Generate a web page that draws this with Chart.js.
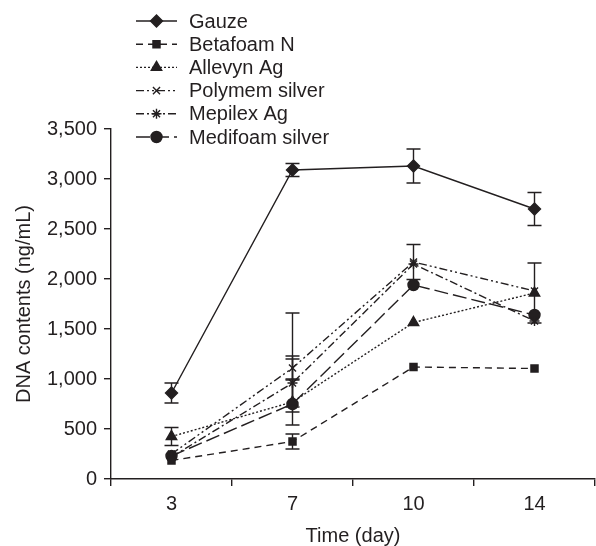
<!DOCTYPE html>
<html>
<head>
<meta charset="utf-8">
<script src="https://cdn.jsdelivr.net/npm/chart.js@4"></script>
<style>
  html, body { margin: 0; padding: 0; background: #fff; }
  #wrap { width: 596px; height: 546px; }
</style>
</head>
<body>
<div id="wrap"><canvas id="myChart" width="596" height="546"></canvas></div>
<script>
// data
let days = ['3', '7', '10', '14'];

let gauze    = [860, 3090, 3130, 2700];
let betafoam = [185, 375, 1120, 1105];
let allevyn  = [425, 770, 1565, 1860];
let polymem  = [250, 1110, 2170, 1880];
let mepilex  = [220, 960, 2150, 1580];
let medifoam = [230, 750, 1940, 1640];

// error bars: number = symmetric, [down, up] = uneven
let gauzeErr    = [100, 65, 170, 165];
let betafoamErr = [0, 75, 0, 0];
let allevynErr  = [90, 230, 0, 300];
let polymemErr  = [0, 120, 175, 0];
let mepilexErr  = [0, 240, 0, 0];
let medifoamErr = [0, [80, 910], 0, 0];

let yTicks = [0, 500, 1000, 1500, 2000, 2500, 3000, 3500];

const ink = '#231f20';
const font = 'Arial, "Liberation Sans", Helvetica, sans-serif';

function series(label, data, err, style, radius, dash) {
    return {
        label: label,
        data: data,
        err: err,
        borderColor: ink,
        backgroundColor: ink,
        borderWidth: 1.4,
        borderDash: dash,
        pointStyle: style,
        pointRadius: radius,
        pointBorderWidth: 1.4,
        pointBackgroundColor: ink,
        pointBorderColor: ink,
        tension: 0,
        fill: false
    };
}

// error bars drawn behind the points, through the chart scales
const errorBars = {
    id: 'errorBars',
    beforeDatasetsDraw(chart) {
        const ctx = chart.ctx;
        const xs = chart.scales.x, ys = chart.scales.y;
        ctx.save();
        ctx.strokeStyle = ink;
        ctx.lineWidth = 1.4;
        chart.data.datasets.forEach(ds => {
            ds.data.forEach((v, i) => {
                let e = ds.err[i];
                if (!e) return;
                let down = Array.isArray(e) ? e[0] : e;
                let up = Array.isArray(e) ? e[1] : e;
                let x = xs.getPixelForValue(i);
                let yT = ys.getPixelForValue(v + up);
                let yB = ys.getPixelForValue(v - down);
                ctx.beginPath();
                ctx.moveTo(x, yT); ctx.lineTo(x, yB);
                ctx.moveTo(x - 7, yT); ctx.lineTo(x + 7, yT);
                ctx.moveTo(x - 7, yB); ctx.lineTo(x + 7, yB);
                ctx.stroke();
            });
        });
        ctx.restore();
    }
};

// legend in the top-left, line sample with marker in the middle
const sideLegend = {
    id: 'sideLegend',
    afterDraw(chart) {
        const ctx = chart.ctx;
        ctx.save();
        chart.data.datasets.forEach((ds, k) => {
            let y = 21 + k * 23.2;
            ctx.strokeStyle = ink;
            ctx.fillStyle = ink;
            ctx.lineWidth = 1.4;
            ctx.setLineDash(ds.borderDash || []);
            ctx.beginPath();
            ctx.moveTo(136, y); ctx.lineTo(177, y);
            ctx.stroke();
            ctx.setLineDash([]);
            Chart.helpers.drawPoint(ctx, {
                pointStyle: ds.pointStyle,
                radius: ds.pointRadius,
                rotation: 0,
                borderWidth: 1.4
            }, 156.5, y);
            ctx.font = '20px ' + font;
            ctx.textBaseline = 'middle';
            ctx.textAlign = 'left';
            ctx.fillText(ds.label, 189, y + 1);
        });
        ctx.restore();
    }
};

new Chart(document.getElementById('myChart'), {
    type: 'line',
    data: {
        labels: days,
        datasets: [
            series('Gauze', gauze, gauzeErr, 'rectRot', 6, []),
            series('Betafoam N', betafoam, betafoamErr, 'rect', 5, [7, 5]),
            series('Allevyn Ag', allevyn, allevynErr, 'triangle', 6, [2, 2]),
            series('Polymem silver', polymem, polymemErr, 'crossRot', 5, [8, 3, 2, 3, 2, 3]),
            series('Mepilex Ag', mepilex, mepilexErr, 'star', 5, [8, 3, 2, 3]),
            series('Medifoam silver', medifoam, medifoamErr, 'circle', 5.5, [14, 5])
        ]
    },
    options: {
        responsive: false,
        animation: false,
        layout: { autoPadding: false, padding: { top: 129, right: 1, left: 0, bottom: 0 } },
        plugins: {
            legend: { display: false },
            tooltip: { enabled: false }
        },
        scales: {
            x: {
                offset: true,
                grid: { offset: true, drawOnChartArea: false, drawTicks: true, tickLength: 7, color: ink, lineWidth: 1.4 },
                border: { display: true, color: ink, width: 1.4 },
                ticks: { color: ink, font: { size: 20, family: font }, padding: 6, maxRotation: 0 },
                title: { display: true, text: 'Time (day)', color: ink, font: { size: 20, family: font, lineHeight: 1 }, padding: 0 },
                afterFit(scale) {
                    scale.height = 67;
                    scale.paddingLeft = 0;
                    scale.paddingRight = 0;
                }
            },
            y: {
                min: 0,
                max: 3500,
                afterBuildTicks(scale) { scale.ticks = yTicks.map(v => ({ value: v })); },
                grid: { drawOnChartArea: false, drawTicks: true, tickLength: 7, color: ink, lineWidth: 1.4 },
                border: { display: true, color: ink, width: 1.4 },
                ticks: {
                    color: ink,
                    font: { size: 20, family: font },
                    padding: 7,
                    callback: v => v.toLocaleString('en-US')
                },
                title: { display: true, text: 'DNA contents (ng/mL)', color: ink, font: { size: 20, family: font, lineHeight: 1.2 }, padding: { top: 12, bottom: 0 } },
                afterFit(scale) { scale.width = 111; }
            }
        }
    },
    plugins: [errorBars, sideLegend]
});
</script>
</body>
</html>
